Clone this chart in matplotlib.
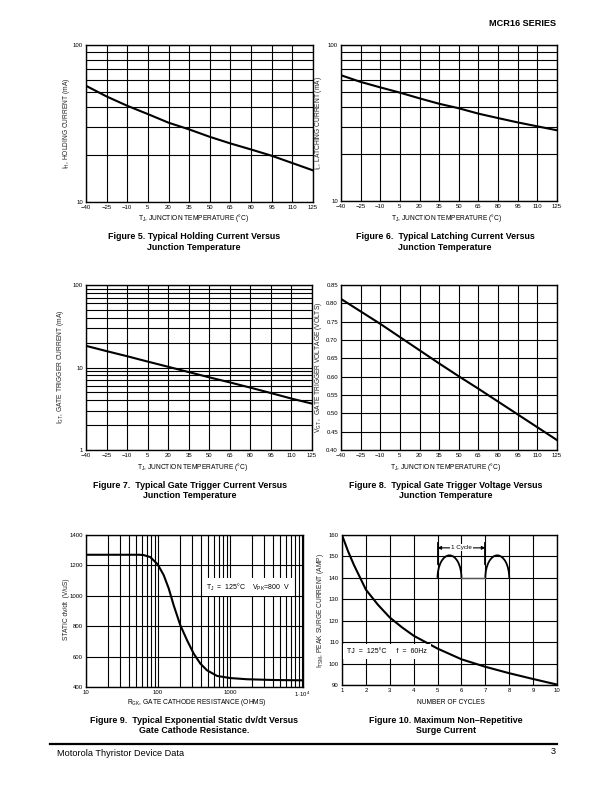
import matplotlib
matplotlib.use("Agg")
import matplotlib.pyplot as plt
from matplotlib.patches import Arc
from matplotlib.lines import Line2D
from matplotlib.ticker import NullFormatter, FixedLocator

plt.rcParams['font.family'] = ['Liberation Sans', 'DejaVu Sans']
plt.rcParams['mathtext.fontset'] = 'custom'
plt.rcParams['mathtext.rm'] = 'Liberation Sans'
plt.rcParams['mathtext.it'] = 'Liberation Sans:italic'
plt.rcParams['mathtext.bf'] = 'Liberation Sans:bold'

# ---------------- data ----------------
temps = [-40, -25, -10, 5, 20, 35, 50, 65, 80, 95, 110, 125]
temp_labels = ['\u221240', '\u221225', '\u221210', '5', '20', '35', '50', '65', '80', '95', '110', '125']

holding_ma = [55, 47, 41, 36.3, 32, 29, 26, 23.6, 21.6, 19.7, 17.7, 15.9]
latching_ma = [64, 58, 53.5, 49.5, 45.5, 42, 39.3, 36.3, 34, 31.9, 30.1, 28.4]
gate_trig_ma = [18.3, 15.8, 13.7, 11.8, 10.2, 8.8, 7.6, 6.6, 5.7, 4.9, 4.2, 3.65]
gate_trig_v = [0.812, 0.778, 0.744, 0.708, 0.672, 0.636, 0.601, 0.567, 0.532, 0.497, 0.462, 0.427]
vgt_ticks = [0.40, 0.45, 0.50, 0.55, 0.60, 0.65, 0.70, 0.75, 0.80, 0.85]
vgt_labels = ['0.40', '0.45', '0.50', '0.55', '0.60', '0.65', '0.70', '0.75', '0.80', '0.85']

rgk_ohms = [10, 30, 55, 63, 78, 99, 120, 141, 165, 204, 253, 313, 387, 479, 660, 1000, 1720, 4040, 10000]
static_dvdt = [1270, 1270, 1270, 1268, 1255, 1207, 1136, 1048, 938, 807, 708, 620, 554, 510, 473, 459, 451, 446, 444]
rgk_ticks = [10, 100, 1000, 10000]
rgk_labels = ['10', '100', '1000', '1\u00b710$^\\mathrm{4}$']
dvdt_ticks = [400, 600, 800, 1000, 1200, 1400]

cycles = [1, 1.25, 1.5, 2, 2.5, 3, 3.5, 4, 5, 6, 7, 8, 9, 10]
surge_amp = [160, 152.5, 146, 134.5, 127.5, 121.5, 117, 113, 107, 102, 98.5, 95.5, 92.8, 90.2]
cycle_ticks = [1, 2, 3, 4, 5, 6, 7, 8, 9, 10]
surge_ticks = [90, 100, 110, 120, 130, 140, 150, 160]

# inset waveform illustration (fig 10)
arch_starts = [5, 7]
arch_base = 140
arch_peak = 150.5
gap_span = [6, 7]
cycle_marks = [5, 7]
cycle_mark_range = [146.5, 156.5]
cycle_arrow_y = 154

# ---------------- figure ----------------
W, H = 612, 792
fig = plt.figure(figsize=(W / 100, H / 100), dpi=100)
fig.patch.set_facecolor('white')

TICK_FS = 4.3
LABEL_FS = 4.8
CAP_FS = 6.4
GRID_LW = 0.8
FRAME_LW = 1.0
CURVE_LW = 1.5


def px_axes(l, r, t, b):
    return fig.add_axes([l / W, 1 - b / H, (r - l) / W, (b - t) / H])


def ftext(x, y, s, **kw):
    fig.text(x / W, 1 - y / H, s, **kw)


def style(ax):
    for sp in ax.spines.values():
        sp.set_linewidth(FRAME_LW)
        sp.set_color('black')
    ax.tick_params(which='both', length=0, labelsize=TICK_FS, pad=2.2, colors='black')
    ax.grid(True, which='both', color='black', linewidth=GRID_LW)
    ax.set_axisbelow(True)


def temp_x(ax):
    ax.set_xlim(-40, 125)
    ax.set_xticks(temps)
    ax.set_xticklabels(temp_labels)


def log_y(ax, lo, hi, labels):
    ax.set_yscale('log')
    ax.set_ylim(lo, hi)
    major = []
    d = lo
    while d <= hi:
        major.append(d)
        d *= 10
    ax.yaxis.set_major_locator(FixedLocator(major))
    ax.set_yticklabels(labels)
    minor = []
    for m in major[:-1]:
        minor += [m * k for k in range(2, 10)]
    ax.yaxis.set_minor_locator(FixedLocator(minor))
    ax.yaxis.set_minor_formatter(NullFormatter())


# Figure 5
ax5 = px_axes(86, 313, 45, 202)
ax5.plot(temps, holding_ma, color='black', lw=CURVE_LW)
temp_x(ax5)
log_y(ax5, 10, 100, ['10', '100'])
style(ax5)

# Figure 6
ax6 = px_axes(341, 557, 45, 201)
ax6.plot(temps, latching_ma, color='black', lw=CURVE_LW)
temp_x(ax6)
log_y(ax6, 10, 100, ['10', '100'])
style(ax6)

# Figure 7
ax7 = px_axes(86, 312, 285, 450)
ax7.plot(temps, gate_trig_ma, color='black', lw=CURVE_LW)
temp_x(ax7)
log_y(ax7, 1, 100, ['1', '10', '100'])
style(ax7)

# Figure 8
ax8 = px_axes(341, 557, 285, 450)
ax8.plot(temps, gate_trig_v, color='black', lw=CURVE_LW)
temp_x(ax8)
ax8.set_ylim(0.40, 0.85)
ax8.set_yticks(vgt_ticks)
ax8.set_yticklabels(vgt_labels)
style(ax8)

# Figure 9
ax9 = px_axes(86, 303, 535, 687)
ax9.plot(rgk_ohms, static_dvdt, color='black', lw=CURVE_LW)
ax9.set_xscale('log')
ax9.set_xlim(10, 10330)
ax9.xaxis.set_major_locator(FixedLocator(rgk_ticks))
ax9.set_xticklabels(rgk_labels)
minor9 = []
for m in rgk_ticks[:-1]:
    minor9 += [m * k for k in range(2, 10)]
ax9.xaxis.set_minor_locator(FixedLocator(minor9))
ax9.xaxis.set_minor_formatter(NullFormatter())
ax9.set_ylim(400, 1400)
ax9.set_yticks(dvdt_ticks)
ax9.set_yticklabels([str(v) for v in dvdt_ticks])
style(ax9)
ax9.text(1780, 1058, 'T$_\\mathrm{J}$  =  125\u00b0C    V$_\\mathrm{PK}$=800  V',
         ha='center', va='center', fontsize=5.0, zorder=5,
         bbox=dict(facecolor='white', edgecolor='none', pad=2.5))

# Figure 10
ax10 = px_axes(342, 557, 535, 685)
ax10.plot(cycles, surge_amp, color='black', lw=CURVE_LW)
ax10.set_xlim(1, 10)
ax10.set_xticks(cycle_ticks)
ax10.set_xticklabels([str(v) for v in cycle_ticks])
ax10.set_ylim(90, 160)
ax10.set_yticks(surge_ticks)
ax10.set_yticklabels([str(v) for v in surge_ticks])
style(ax10)
ax10.text(1.22, 105.6, 'TJ  =  125\u00b0C     f  =  60Hz', ha='left', va='center',
          fontsize=5.0, zorder=5,
          bbox=dict(facecolor='white', edgecolor='none', pad=3.0))
for xs in arch_starts:
    ax10.add_patch(Arc((xs + 0.5, arch_base), 1.0, 2 * (arch_peak - arch_base),
                       theta1=0, theta2=180, color='black', lw=1.3, zorder=4))
ax10.plot(gap_span, [arch_base, arch_base], color='#555555', lw=1.0, zorder=4)
for xm in cycle_marks:
    ax10.plot([xm, xm], cycle_mark_range, color='black', lw=1.3, zorder=4)
mid = (cycle_marks[0] + cycle_marks[1]) / 2
ax10.text(mid, cycle_arrow_y, '1 Cycle', ha='center', va='center', fontsize=4.5, zorder=6,
          bbox=dict(facecolor='white', edgecolor='none', pad=0.8))
for xm in cycle_marks:
    ax10.annotate('', xy=(xm, cycle_arrow_y), xytext=(mid, cycle_arrow_y),
                  arrowprops=dict(arrowstyle='-|>', lw=0.8, color='black',
                                  mutation_scale=5, shrinkA=0, shrinkB=0), zorder=5)
ax10.text(mid, cycle_arrow_y, '1 Cycle', ha='center', va='center', fontsize=4.5, zorder=7,
          bbox=dict(facecolor='white', edgecolor='none', pad=0.8))

# ---------------- axis labels ----------------
tj = 'T$_\\mathrm{J}$, JUNCTION TEMPERATURE (\u00b0C)'
ftext(194, 218, tj, ha='center', va='center', fontsize=LABEL_FS)
ftext(447, 218, tj, ha='center', va='center', fontsize=LABEL_FS)
ftext(193, 467, tj, ha='center', va='center', fontsize=LABEL_FS)
ftext(446, 467, tj, ha='center', va='center', fontsize=LABEL_FS)
ftext(197, 703, 'R$_\\mathrm{GK}$, GATE CATHODE RESISTANCE (OHMS)', ha='center', va='center', fontsize=LABEL_FS)
ftext(451, 702, 'NUMBER OF CYCLES', ha='center', va='center', fontsize=LABEL_FS)

ylab = dict(ha='center', va='center', rotation=90, fontsize=LABEL_FS, color='#222222')
ftext(66, 123, 'I$_\\mathrm{H}$, HOLDING CURRENT (mA)', **ylab)
ftext(318, 123, 'I$_\\mathrm{L}$, LATCHING CURRENT (mA)', **ylab)
ftext(61, 367, 'I$_\\mathrm{GT}$, GATE TRIGGER CURRENT (mA)', **ylab)
ftext(318, 367, 'V$_\\mathrm{GT}$ ,  GATE TRIGGER VOLTAGE (VOLTS)', **ylab)
ftext(66, 609, 'STATIC dv/dt  (V/uS)', **ylab)
ftext(321, 610, 'I$_\\mathrm{TSM}$, PEAK SURGE CURRENT (AMP)', **ylab)

# ---------------- captions ----------------
cap = dict(ha='center', va='center', fontsize=CAP_FS, weight='bold', linespacing=1.15,
           multialignment='center')
ftext(194, 242, 'Figure 5. Typical Holding Current Versus\nJunction Temperature', **cap)
ftext(445, 242, 'Figure 6.  Typical Latching Current Versus\nJunction Temperature', **cap)
ftext(190, 490.5, 'Figure 7.  Typical Gate Trigger Current Versus\nJunction Temperature', **cap)
ftext(446, 490.5, 'Figure 8.  Typical Gate Trigger Voltage Versus\nJunction Temperature', **cap)
ftext(194, 725.5, 'Figure 9.  Typical Exponential Static dv/dt Versus\nGate Cathode Resistance.', **cap)
ftext(446, 725.5, 'Figure 10. Maximum Non\u2013Repetitive\nSurge Current', **cap)

# ---------------- header / footer ----------------
ftext(556, 23, 'MCR16 SERIES', ha='right', va='center', fontsize=6.6, weight='bold')
fig.add_artist(Line2D([50 / W, 557 / W], [1 - 744 / H, 1 - 744 / H],
                      transform=fig.transFigure, color='black', lw=1.6))
ftext(57, 754, 'Motorola Thyristor Device Data', ha='left', va='center', fontsize=6.6)
ftext(556, 752, '3', ha='right', va='center', fontsize=6.6)

fig.savefig('out.png', dpi=100, facecolor='white')
